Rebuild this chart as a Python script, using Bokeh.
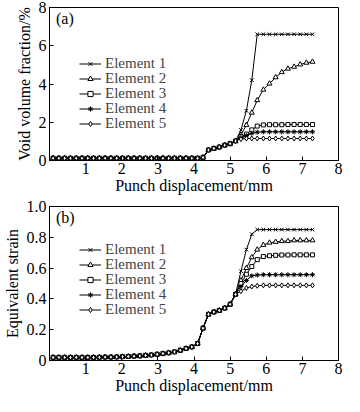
from bokeh.plotting import figure
from bokeh.layouts import column
from bokeh.models import Legend, LegendItem, Label, FixedTicker
from bokeh.embed import file_html
from bokeh.resources import INLINE

# ---------------- data ----------------
x_disp = [0.1, 0.26, 0.42, 0.58, 0.74, 0.9, 1.06, 1.22, 1.38, 1.54, 1.7, 1.86, 2.02,
          2.18, 2.34, 2.5, 2.66, 2.82, 2.98, 3.14, 3.3, 3.46, 3.62, 3.78, 3.94, 4.1,
          4.25, 4.4, 4.55, 4.7, 4.85, 5.0, 5.15,
          5.3, 5.45, 5.6, 5.75, 5.92, 6.09, 6.26, 6.43, 6.6, 6.77, 6.94, 7.11, 7.28]

# (a) void volume fraction /%
void_common = [0.12, 0.12, 0.12, 0.12, 0.12, 0.12, 0.12, 0.12, 0.12, 0.12,
               0.12, 0.12, 0.12, 0.12, 0.12, 0.12, 0.12, 0.12, 0.12, 0.12, 0.12, 0.12,
               0.12, 0.12, 0.12, 0.12, 0.16, 0.55, 0.63, 0.7, 0.8, 0.88, 1.02]
void_e1 = [1.6, 2.6, 4.2, 6.6, 6.6, 6.6, 6.6, 6.6, 6.6, 6.6, 6.6, 6.6, 6.6]
void_e2 = [1.35, 1.85, 2.5, 3.15, 3.7, 4.02, 4.35, 4.62, 4.8, 4.9, 5.02, 5.11, 5.16]
void_e3 = [1.25, 1.38, 1.6, 1.8, 1.86, 1.87, 1.87, 1.87, 1.88, 1.88, 1.88, 1.88, 1.88]
void_e4 = [1.2, 1.3, 1.42, 1.48, 1.5, 1.5, 1.5, 1.5, 1.5, 1.5, 1.5, 1.5, 1.5]
void_e5 = [1.12, 1.15, 1.15, 1.15, 1.15, 1.15, 1.15, 1.15, 1.15, 1.15, 1.15, 1.15, 1.15]

# (b) equivalent strain
strain_common = [0.02, 0.02, 0.02, 0.02, 0.02, 0.02, 0.02, 0.02, 0.021, 0.022, 0.022,
                 0.023, 0.025, 0.026, 0.028, 0.03, 0.033, 0.036, 0.04, 0.045, 0.05,
                 0.056, 0.066, 0.078, 0.088, 0.11, 0.21, 0.3, 0.315, 0.325, 0.34,
                 0.365, 0.43]
strain_e1 = [0.58, 0.72, 0.82, 0.85, 0.85, 0.85, 0.85, 0.85, 0.85, 0.85, 0.85, 0.85, 0.85]
strain_e2 = [0.52, 0.6, 0.67, 0.72, 0.75, 0.765, 0.77, 0.775, 0.775, 0.78, 0.78, 0.78, 0.78]
strain_e3 = [0.5, 0.56, 0.61, 0.655, 0.675, 0.68, 0.683, 0.685, 0.685, 0.686, 0.686, 0.686, 0.686]
strain_e4 = [0.48, 0.52, 0.55, 0.555, 0.557, 0.557, 0.557, 0.557, 0.557, 0.557, 0.557, 0.557, 0.557]
strain_e5 = [0.45, 0.47, 0.48, 0.485, 0.488, 0.488, 0.488, 0.488, 0.488, 0.488, 0.488, 0.488, 0.488]

labels = ["Element 1", "Element 2", "Element 3", "Element 4", "Element 5"]
x_ticks = [0, 1, 2, 3, 4, 5, 6, 7, 8]
void_ticks = [0, 2, 4, 6, 8]
strain_ticks = [0, 0.2, 0.4, 0.6, 0.8, 1.0]

FONT = "Liberation Serif"
FS = "16px"
LFS = "15px"
markers = [("x", 5, None), ("triangle", 5, "white"), ("square", 4, "white"),
           ("asterisk", 5, None), ("diamond", 5, "white")]


def make_fig(height, border_top, border_bottom, y_end, y_ticks, ylabel, tag,
             tails, common, legend_ys):
    p = figure(width=344, height=height, x_range=(0, 8), y_range=(0, y_end),
               output_backend="svg", toolbar_location=None,
               min_border_left=37, min_border_right=6,
               min_border_top=border_top, min_border_bottom=border_bottom)
    p.xgrid.visible = False
    p.ygrid.visible = False
    p.outline_line_color = "black"
    p.outline_line_width = 1
    for ax in (p.xaxis[0], p.yaxis[0]):
        ax.axis_line_color = "black"
        ax.major_tick_in = 4
        ax.major_tick_out = 0
        ax.minor_tick_line_color = None
        ax.major_label_text_font = FONT
        ax.major_label_text_font_size = FS
        ax.major_label_text_color = "black"
        ax.major_label_text_line_height = 1.0
        ax.axis_label_text_font = FONT
        ax.axis_label_text_font_size = FS
        ax.axis_label_text_font_style = "normal"
        ax.axis_label_text_color = "black"
        ax.axis_label_text_line_height = 1.0
    p.xaxis.ticker = FixedTicker(ticks=x_ticks)
    p.xaxis.major_label_overrides = {0: ""}
    p.xaxis.axis_label = "Punch displacement/mm"
    p.xaxis.major_label_standoff = 2
    p.xaxis.axis_label_standoff = 0
    p.yaxis.ticker = FixedTicker(ticks=y_ticks)
    if y_end == 1.0:
        p.yaxis.major_label_overrides = {0: "0", 0.2: "0.2", 0.4: "0.4", 0.6: "0.6",
                                         0.8: "0.8", 1: "1.0"}
    p.yaxis.axis_label = ylabel
    p.yaxis.major_label_standoff = 3
    p.yaxis.axis_label_standoff = 3

    for lab, tail, (mk, sz, fill), ly in zip(labels, tails, markers, legend_ys):
        ys = common + tail
        ln = p.line(x_disp, ys, line_color="black", line_width=1)
        sc = p.scatter(x_disp, ys, marker=mk, size=sz, line_color="black",
                       fill_color=fill if fill else "black", line_width=1)
        leg = Legend(items=[LegendItem(label=lab, renderers=[ln, sc])],
                     location=(30, ly), orientation="vertical",
                     glyph_width=22, glyph_height=13, label_height=13, spacing=0,
                     padding=0, margin=0, background_fill_alpha=0,
                     border_line_color=None, label_text_font=FONT,
                     label_text_font_size=LFS, label_standoff=4,
                     label_text_line_height=1.0)
        p.add_layout(leg)
    p.add_layout(Label(x=0.18, y=y_end * 0.985, text=tag, text_font=FONT,
                       text_font_size=FS, text_baseline="top", text_color="black"))
    return p


pa = make_fig(196, 7, 32, 8, void_ticks, "Void volume fraction/%", "(a)",
              [void_e1, void_e2, void_e3, void_e4, void_e5], void_common,
              [88, 73, 58, 43, 28])
pb = make_fig(200, 10, 32, 1.0, strain_ticks, "Equivalent strain", "(b)",
              [strain_e1, strain_e2, strain_e3, strain_e4, strain_e5], strain_common,
              [102, 87, 72, 57, 42])

layout = column(pa, pb, spacing=0)
open("out.html", "w").write(file_html(layout, INLINE))
